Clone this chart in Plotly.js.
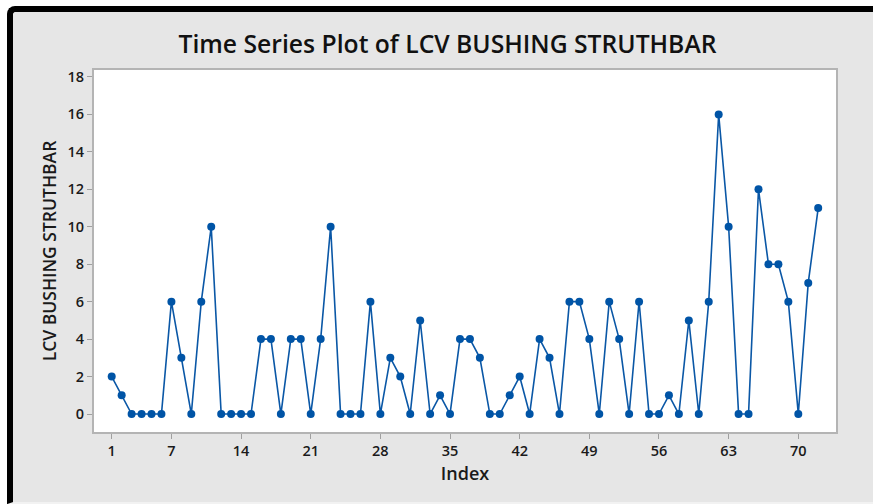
<!DOCTYPE html>
<html>
<head>
<meta charset="utf-8">
<script src="https://cdn.plot.ly/plotly-3.0.1.min.js"></script>
<style>
  html, body { margin: 0; padding: 0; background: #ffffff; width: 873px; height: 504px; overflow: hidden; }
  #frame { position: absolute; left: 7px; top: 6px; width: 860px; height: 490px;
           background: #e6e6e6; border-top: 6px solid #000; border-left: 6px solid #000;
           border-top-left-radius: 8px; border-bottom: 2px solid #f2f2f2; }
  #chart { position: absolute; left: 0; top: 0; width: 873px; height: 504px; }
</style>
</head>
<body>
<div id="frame"></div>
<div id="chart"></div>
<script>
const index = Array.from({length: 72}, (_, i) => i + 1);
const values = [2, 1, 0, 0, 0, 0, 6, 3, 0, 6, 10, 0, 0, 0, 0, 4, 4, 0, 4, 4,
                0, 4, 10, 0, 0, 0, 6, 0, 3, 2, 0, 5, 0, 1, 0, 4, 4, 3, 0, 0,
                1, 2, 0, 4, 3, 0, 6, 6, 4, 0, 6, 4, 0, 6, 0, 0, 1, 0, 5, 0,
                6, 16, 10, 0, 0, 12, 8, 8, 6, 0, 7, 11];
const xTicks = [1, 7, 14, 21, 28, 35, 42, 49, 56, 63, 70];
const yTicks = [0, 2, 4, 6, 8, 10, 12, 14, 16, 18];

const fontFam = '"Open Sans", "Noto Sans", sans-serif';

const trace = {
  x: index, y: values, type: 'scatter', mode: 'lines+markers',
  line: {color: '#0a57a6', width: 1.6},
  marker: {color: '#0054a6', size: 8},
  hoverinfo: 'none'
};

const layout = {
  width: 873, height: 504,
  paper_bgcolor: 'rgba(0,0,0,0)', plot_bgcolor: '#ffffff',
  margin: {l: 94, r: 37, t: 70, b: 72},
  showlegend: false,
  title: {text: 'Time Series Plot of LCV BUSHING STRUTHBAR', x: 0.5126, xanchor: 'center', y: 0.912, yanchor: 'middle',
          font: {family: fontFam, size: 24.7, color: '#111111', weight: 600}},
  xaxis: {
    range: [-0.78, 73.79], tickvals: xTicks, ticktext: xTicks.map(String),
    showgrid: false, zeroline: false, showline: true, linecolor: '#b4b4b4', linewidth: 2, mirror: true,
    ticks: 'outside', ticklen: 5, tickcolor: '#a0a0a0', tickwidth: 1,
    tickfont: {family: fontFam, size: 14.5, color: '#1a1a1a', weight: 600},
    title: {text: 'Index', standoff: 8, font: {family: fontFam, size: 18, color: '#1a1a1a', weight: 600}}
  },
  yaxis: {
    range: [-0.96, 18.37], tickvals: yTicks, ticktext: yTicks.map(String),
    showgrid: false, zeroline: false, showline: true, linecolor: '#b4b4b4', linewidth: 2, mirror: true,
    ticks: 'outside', ticklen: 5, tickcolor: '#a0a0a0', tickwidth: 1,
    tickfont: {family: fontFam, size: 14.5, color: '#1a1a1a', weight: 600},
    title: {text: 'LCV BUSHING STRUTHBAR', standoff: 6, font: {family: fontFam, size: 17.5, color: '#1a1a1a', weight: 600}}
  }
};

Plotly.newPlot('chart', [trace], layout, {displayModeBar: false, staticPlot: true});
</script>
</body>
</html>
